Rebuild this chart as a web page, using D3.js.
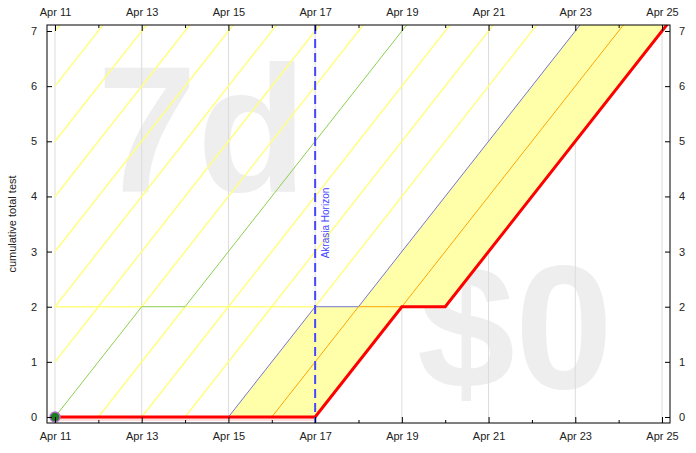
<!DOCTYPE html>
<html>
<head>
<meta charset="utf-8">
<script src="https://cdn.jsdelivr.net/npm/d3@7"></script>
<style>
  body { margin: 0; background: #fff; }
  svg { display: block; font-family: "Liberation Sans", Arial, sans-serif; }
  .axis text { font-size: 11px; fill: #222; }
  .axis line { stroke: #000; }
</style>
</head>
<body>
<div id="chart"></div>
<script>
/* Beeminder style road graph */

const roadDates = ["2024-04-11", "2024-04-17", "2024-04-19", "2024-04-20", "2024-04-26"];
const roadValues = [0, 0, 2, 2, 8];
const guideShifts = [3, 4, 5, 7, 8, 9, 10, 11, 12, 13, 14]; // yellow lines, days left of the road
const greenShift = 6;
const blueShift = 2;
const orangeShift = 1;
const dataDates = ["2024-04-11"];
const dataValues = [0];
const horizonDate = "2024-04-17";
const majorTicks = ["2024-04-11", "2024-04-13", "2024-04-15", "2024-04-17", "2024-04-19", "2024-04-21", "2024-04-23", "2024-04-25"];
const minorTicks = ["2024-04-12", "2024-04-14", "2024-04-16", "2024-04-18", "2024-04-20", "2024-04-22", "2024-04-24"];
const yTicks = [0, 1, 2, 3, 4, 5, 6, 7];

const width = 696, height = 453;
const frame = {left: 47, right: 670, top: 25, bottom: 423};
const parse = d3.timeParse("%Y-%m-%d");

const road = roadDates.map((d, i) => ({date: parse(d), value: roadValues[i]}));
const shifted = k => road.map(p => ({date: d3.timeDay.offset(p.date, -k), value: p.value}));

const svg = d3.select("#chart").append("svg")
    .attr("width", width)
    .attr("height", height);

const x = d3.scaleTime()
    .domain([parse("2024-04-11"), parse("2024-04-25")])
    .range([55, 662]);

const y = d3.scaleLinear()
    .domain([0, 7])
    .range([417, 31]);

// clip: lines start at the first datapoint
svg.append("clipPath").attr("id", "clip")
  .append("rect")
    .attr("x", x(parse("2024-04-11")))
    .attr("y", frame.top)
    .attr("width", frame.right - x(parse("2024-04-11")))
    .attr("height", frame.bottom - frame.top);

svg.append("clipPath").attr("id", "clipFrame")
  .append("rect")
    .attr("x", frame.left)
    .attr("y", frame.top)
    .attr("width", frame.right - frame.left)
    .attr("height", frame.bottom - frame.top);

// watermarks
svg.append("text")
    .attr("x", 202).attr("y", 192)
    .attr("text-anchor", "middle")
    .style("font-size", "180px").style("font-weight", "bold")
    .style("fill", "#eeeeee")
    .text("7d");

svg.append("text")
    .attr("x", 515).attr("y", 388)
    .attr("text-anchor", "middle")
    .style("font-size", "176px").style("font-weight", "bold")
    .style("fill", "#eeeeee")
    .text("$0");

// vertical grid
svg.append("g")
  .selectAll("line")
  .data(majorTicks.map(parse))
  .join("line")
    .attr("x1", d => x(d)).attr("x2", d => x(d))
    .attr("y1", frame.top).attr("y2", frame.bottom)
    .style("stroke", "#dcdcdc");

const line = d3.line().x(d => x(d.date)).y(d => y(d.value));

const plot = svg.append("g").attr("clip-path", "url(#clip)");

// yellow brick road fill between blue line and road
const fillPts = shifted(blueShift).concat(road.slice().reverse());
plot.append("path")
    .attr("d", line(fillPts) + "Z")
    .style("fill", "#ffffaa")
    .style("stroke", "none");

// faint pink shade under the flat part of the road
plot.append("rect")
    .attr("x", x(road[0].date))
    .attr("width", x(road[1].date) - x(road[0].date))
    .attr("y", y(0))
    .attr("height", 4)
    .style("fill", "#ffdcdc");

for (let k of guideShifts) {
    plot.append("path")
        .attr("d", line(shifted(k)))
        .style("fill", "none")
        .style("stroke", "#ffff80")
        .style("stroke-width", 1.5);
}

plot.append("path")
    .attr("d", line(shifted(greenShift)))
    .style("fill", "none").style("stroke", "#8ccf4e").style("stroke-width", 1);

plot.append("path")
    .attr("d", line(shifted(blueShift)))
    .style("fill", "none").style("stroke", "#6666cc").style("stroke-width", 0.9);

plot.append("path")
    .attr("d", line(shifted(orangeShift)))
    .style("fill", "none").style("stroke", "#ffa500").style("stroke-width", 1);

plot.append("path")
    .attr("d", line(road))
    .style("fill", "none").style("stroke", "#ff0000").style("stroke-width", 3);

// akrasia horizon
const hx = x(parse(horizonDate));
svg.append("line")
    .attr("x1", hx).attr("x2", hx)
    .attr("y1", frame.top).attr("y2", frame.bottom)
    .style("stroke", "#4646ff")
    .style("stroke-width", 2)
    .style("stroke-dasharray", "9,5");

svg.append("text")
    .attr("transform", `translate(${hx + 14},223) rotate(-90)`)
    .attr("text-anchor", "middle")
    .style("font-size", "10px")
    .style("fill", "#4646ff")
    .text("Akrasia Horizon");

// datapoint
svg.append("g").attr("clip-path", "url(#clipFrame)")
  .selectAll("circle")
  .data(dataDates.map((d, i) => ({date: parse(d), value: dataValues[i]})))
  .join("circle")
    .attr("cx", d => x(d.date))
    .attr("cy", d => y(d.value))
    .attr("r", 5)
    .style("fill", "#1e7a1e")
    .style("stroke", "#b070c8")
    .style("stroke-width", 1.5);

// axes
const fmt = d3.timeFormat("%b %-d");
const yFmt = d3.format("d");

svg.append("g").attr("class", "axis")
    .attr("transform", `translate(0,${frame.bottom})`)
    .call(d3.axisBottom(x).tickValues(majorTicks.map(parse)).tickFormat(fmt).tickSize(-6).tickPadding(9))
    .call(g => g.select(".domain").remove());

svg.append("g").attr("class", "axis")
    .attr("transform", `translate(0,${frame.bottom})`)
    .call(d3.axisBottom(x).tickValues(minorTicks.map(parse)).tickFormat("").tickSize(-3))
    .call(g => g.select(".domain").remove());

svg.append("g").attr("class", "axis")
    .attr("transform", `translate(0,${frame.top})`)
    .call(d3.axisTop(x).tickValues(majorTicks.map(parse)).tickFormat(fmt).tickSize(-6).tickPadding(9))
    .call(g => g.select(".domain").remove());

svg.append("g").attr("class", "axis")
    .attr("transform", `translate(0,${frame.top})`)
    .call(d3.axisTop(x).tickValues(minorTicks.map(parse)).tickFormat("").tickSize(-3))
    .call(g => g.select(".domain").remove());

svg.append("g").attr("class", "axis")
    .attr("transform", `translate(${frame.left},0)`)
    .call(d3.axisLeft(y).tickValues(yTicks).tickFormat(yFmt).tickSize(-5).tickPadding(10))
    .call(g => g.select(".domain").remove());

svg.append("g").attr("class", "axis")
    .attr("transform", `translate(${frame.right},0)`)
    .call(d3.axisRight(y).tickValues(yTicks).tickFormat(yFmt).tickSize(-5).tickPadding(9))
    .call(g => g.select(".domain").remove());

svg.append("rect")
    .attr("x", frame.left).attr("y", frame.top)
    .attr("width", frame.right - frame.left)
    .attr("height", frame.bottom - frame.top)
    .style("fill", "none")
    .style("stroke", "#000")
    .style("stroke-width", 1);

svg.append("text")
    .attr("transform", "translate(16,224) rotate(-90)")
    .attr("text-anchor", "middle")
    .style("font-size", "11px")
    .style("fill", "#222")
    .text("cumulative total test");
</script>
</body>
</html>
